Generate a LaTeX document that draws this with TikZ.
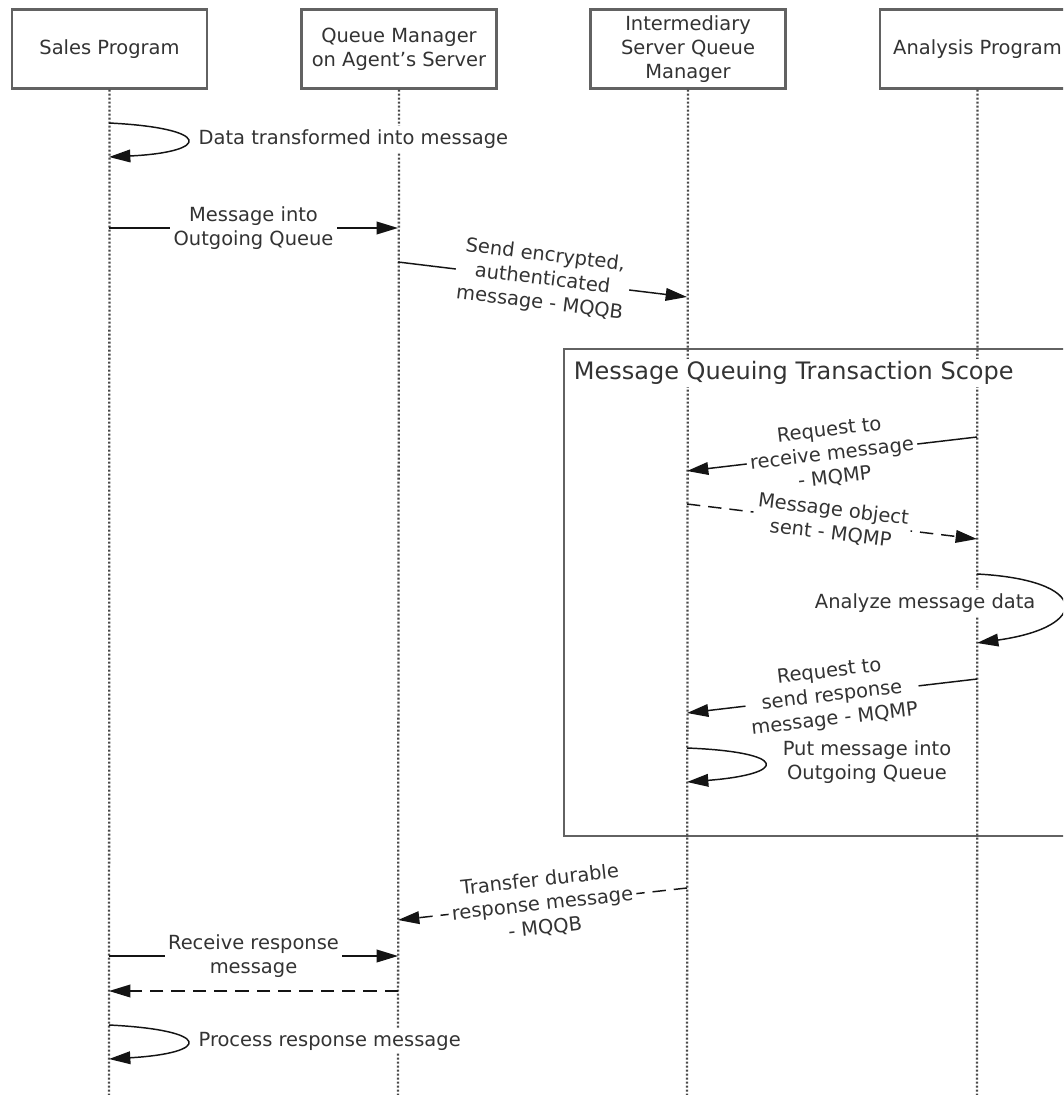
\documentclass[tikz,border=0pt]{standalone}
\usepackage{fontspec}
\setmainfont{DejaVu Sans}
\usetikzlibrary{arrows.meta}
\definecolor{txt}{HTML}{333333}
\definecolor{bord}{HTML}{626262}
\definecolor{lnc}{HTML}{141414}
\definecolor{life}{HTML}{4A4A4A}
\begin{document}
\begin{tikzpicture}[x=0.75pt,y=-0.75pt,
  head/.style={draw=bord, line width=1.9pt, fill=white, minimum width=146pt, minimum height=59pt, align=center, text=txt, inner sep=2pt, font=\fontsize{14.6}{18}\selectfont},
  lifeline/.style={draw=life, line width=1.7pt, dash pattern=on 1.5pt off 1.5pt},
  msg/.style={draw=lnc, line width=1.1pt, -{Triangle[length=16pt,width=9.5pt]}},
  ret/.style={msg, dash pattern=on 10pt off 6pt},
  lbl/.style={fill=white, text=txt, align=center, inner sep=2.5pt, font=\fontsize{14.6}{18}\selectfont},
  ttl/.style={fill=white, text=txt, inner sep=2pt, font=\fontsize{18}{22}\selectfont}]
\useasboundingbox (0,0) rectangle (1063,1095);
\clip (0,0) rectangle (1063,1095);
\fill[white] (0,0) rectangle (1063,1095);

% frame
\draw[draw=bord, line width=1.9pt] (564,349) rectangle (1095,836);

% heads
\node[head] (sp) at (109.5,49) {Sales Program};
\node[head] (qm) at (399,49) {Queue Manager\\on Agent’s Server};
\node[head] (iq) at (688,49) {Intermediary\\Server Queue\\Manager};
\node[head] (ap) at (977.5,49) {Analysis Program};

% lifeline ends
\coordinate (spE) at (109,1095);
\coordinate (qmE) at (398,1095);
\coordinate (iqE) at (687,1095);
\coordinate (apE) at (977,1095);
\draw[lifeline] (sp.south) -- (spE);
\draw[lifeline] (qm.south) -- (qmE);
\draw[lifeline] (iq.south) -- (iqE);
\draw[lifeline] (ap.south) -- (apE);

\node[ttl, anchor=west] (title) at (571,373) {Message Queuing Transaction Scope};

% message points
\coordinate (a1) at (109,123);  \coordinate (b1) at (109,157);
\coordinate (a2) at (109,228);  \coordinate (b2) at (398,228);
\coordinate (a3) at (398,262);  \coordinate (b3) at (687,297);
\coordinate (a4) at (977,437);  \coordinate (b4) at (687,471);
\coordinate (a5) at (687,504);  \coordinate (b5) at (977,539);
\coordinate (a6) at (977,574);  \coordinate (b6) at (977,643);
\coordinate (a7) at (977,679);  \coordinate (b7) at (687,713);
\coordinate (a8) at (687,748);  \coordinate (b8) at (687,782);
\coordinate (a9) at (687,888);  \coordinate (b9) at (398,920);
\coordinate (a10) at (109,956); \coordinate (b10) at (398,956);
\coordinate (a11) at (398,991); \coordinate (b11) at (109,991);
\coordinate (a12) at (109,1025);\coordinate (b12) at (109,1059);

% 1
\draw[msg] (a1) .. controls (212,128) and (212,152) .. (b1);
\node[lbl, anchor=west] (l1) at (195,139) {Data transformed into message};
% 2
\draw[msg] (a2) -- node[lbl] (l2) {Message into\\Outgoing Queue} (b2);
% 3
\draw[msg] (a3) -- node[lbl, sloped] (l3) {Send encrypted,\\authenticated\\message - MQQB} (b3);
% 4
\draw[msg] (a4) -- node[lbl, sloped] (l4) {Request to\\receive message\\- MQMP} (b4);
% 5
\draw[ret] (a5) -- node[lbl, sloped] (l5) {Message object\\sent - MQMP} (b5);
% 6
\draw[msg] (a6) .. controls (1091,580) and (1091,627) .. (b6);
\node[lbl, anchor=east] (l6) at (1039,603) {Analyze message data};
% 7
\draw[msg] (a7) -- node[lbl, sloped] (l7) {Request to\\send response\\message - MQMP} (b7);
% 8
\draw[msg] (a8) .. controls (789,752) and (789,774) .. (b8);
\node[lbl] (l8) at (867,762) {Put message into\\Outgoing Queue};
% 9
\draw[ret] (a9) -- node[lbl, sloped] (l9) {Transfer durable\\response message\\- MQQB} (b9);
% 10
\draw[msg] (a10) -- node[lbl] (l10) {Receive response\\message} (b10);
% 11
\draw[ret] (a11) -- (b11);
% 12
\draw[msg] (a12) .. controls (212,1030) and (212,1053) .. (b12);
\node[lbl, anchor=west] (l12) at (195,1041) {Process response message};
\end{tikzpicture}
\end{document}
